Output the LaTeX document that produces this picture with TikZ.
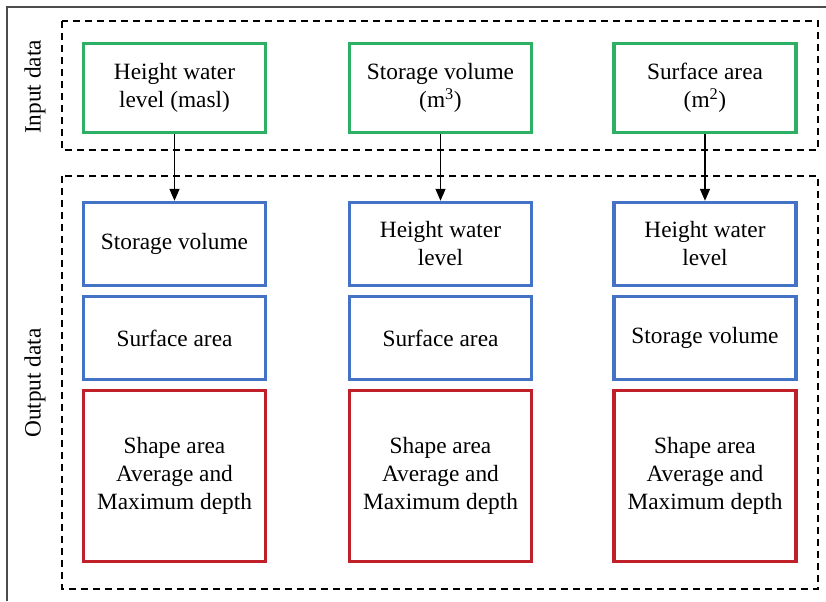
\documentclass[tikz,border=0pt]{standalone}
\usepackage{fontspec}
\setmainfont{Liberation Serif}
\usetikzlibrary{arrows.meta}
\definecolor{ingreen}{RGB}{46,176,100}
\definecolor{outblue}{RGB}{68,114,196}
\definecolor{outred}{RGB}{192,32,42}
\tikzset{
  box/.style={draw, line width=2.6pt, fill=white, align=center, inner sep=0pt,
    minimum width=182*0.75pt, font=\fontsize{17.5}{21}\selectfont},
  inbox/.style={box, draw=ingreen, minimum height=89*0.75pt},
  varbox/.style={box, draw=outblue, minimum height=83*0.75pt},
  depthbox/.style={box, draw=outred, minimum height=171*0.75pt},
  group/.style={draw, line width=1.1pt, dash pattern=on 5.5pt off 3.5pt},
  grouplabel/.style={rotate=90, font=\fontsize{17.5}{21}\selectfont}
}
\begin{document}
\begin{tikzpicture}[x=0.75pt, y=-0.75pt]
      \useasboundingbox (0,0) rectangle (826,601);
      % frame
      \draw[line width=0.8pt, black!70] (7,601) -- (7,7) -- (826,7);
      % groups
      \draw[group] (62,21) rectangle (818,150);
      \draw[group] (62,176) rectangle (818,589);
      \draw
        (35,87) node[grouplabel] (inlabel){Input data}
        (35,383) node[grouplabel] (outlabel){Output data};
      % input data
      \draw
        (174.5,88) node[inbox] (in1){Height water\\level (masl)}
        (440.5,88) node[inbox] (in2){Storage volume\\(m\textsuperscript{3})}
        (705,88) node[inbox] (in3){Surface area\\(m\textsuperscript{2})};
      % output data
      \draw
        (174.5,244) node[varbox] (out1a){Storage volume}
        (174.5,338) node[varbox] (out1b){Surface area}
        (174.5,476) node[depthbox] (out1c){Shape area\\Average and\\Maximum depth}
        (440.5,244) node[varbox] (out2a){Height water\\level}
        (440.5,338) node[varbox] (out2b){Surface area}
        (440.5,476) node[depthbox] (out2c){Shape area\\Average and\\Maximum depth}
        (705,244) node[varbox] (out3a){Height water\\level}
        (705,338) node[varbox] (out3b){Storage volume}
        (705,476) node[depthbox] (out3c){Shape area\\Average and\\Maximum depth};
      \begin{scope}[-{Triangle[length=9pt,width=7.5pt]}, line width=1.1pt]
        \draw (in1) to (out1a);
        \draw (in2) to (out2a);
        \draw (in3) to (out3a);
      \end{scope}
    \end{tikzpicture}
\end{document}
